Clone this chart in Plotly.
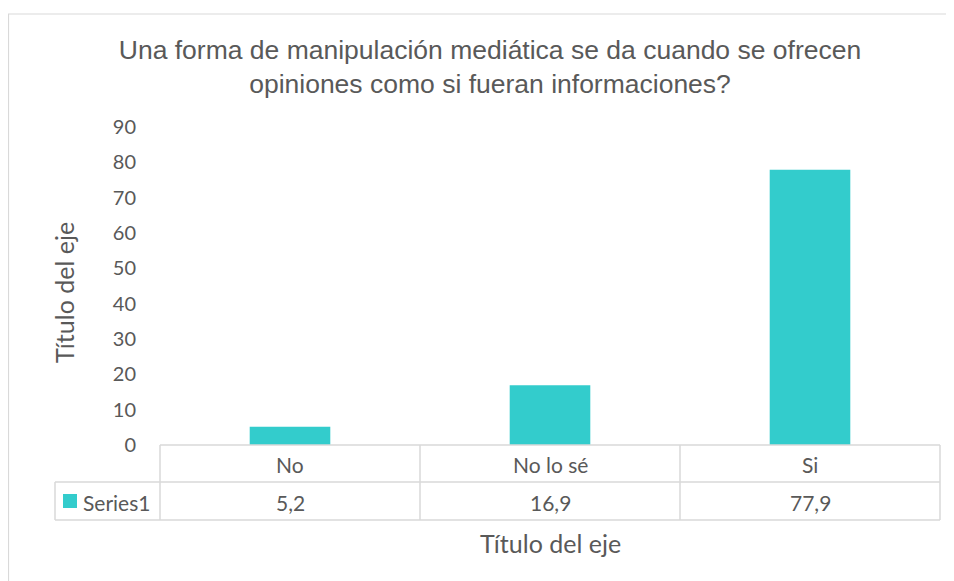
import plotly.graph_objects as go

categories = ["No", "No lo sé", "Si"]
values = [5.2, 16.9, 77.9]
value_labels = ["5,2", "16,9", "77,9"]
series_name = "Series1"
y_ticks = [0, 10, 20, 30, 40, 50, 60, 70, 80, 90]
title_text = "Una forma de manipulación mediática se da cuando se ofrecen<br>opiniones como si fueran informaciones?"
axis_title = "Título del eje"

OFF = 8  # page body margin
W, H = 954 - OFF, 581 - OFF
BAR = "#33CCCC"
GRID = "#D9D9D9"
TXT = "#595959"
TFONT = "Lato"

def px(x):
    return (x - OFF) / W

def py(y):
    return 1 - (y - OFF) / H

fig = go.Figure()
fig.add_trace(go.Bar(x=categories, y=values, marker_color=BAR, width=0.31,
                     name=series_name, showlegend=False))

fig.update_layout(
    template="none",
    width=W, height=H,
    margin=dict(l=0, r=0, t=0, b=0, pad=0, autoexpand=False),
    paper_bgcolor="white", plot_bgcolor="white",
    xaxis=dict(domain=[px(160), px(940)], showticklabels=False, showgrid=False,
               showline=False, zeroline=False, range=[-0.5, 2.5], automargin=False, ticks=""),
    yaxis=dict(domain=[py(445), py(127)], range=[0, 90], tickvals=y_ticks,
               showgrid=False, zeroline=False, showline=False, automargin=False,
               tickfont=dict(family=TFONT, size=20, color=TXT), ticks="",
               ticklabelstandoff=23),
    title=dict(text=title_text, x=px(490), xanchor="center", y=py(59), yanchor="middle",
               font=dict(family="Liberation Sans", size=26.5, color=TXT)),
)

shapes = []
# outer border
shapes.append(dict(type="rect", xref="paper", yref="paper", x0=px(8.5), x1=px(970),
                   y0=py(600), y1=py(14), line=dict(color=GRID, width=1.2)))
# table lines
def hline(x0, x1, y):
    shapes.append(dict(type="line", xref="paper", yref="paper", x0=px(x0), x1=px(x1),
                       y0=py(y), y1=py(y), line=dict(color=GRID, width=1.5)))
def vline(x, y0, y1):
    shapes.append(dict(type="line", xref="paper", yref="paper", x0=px(x), x1=px(x),
                       y0=py(y0), y1=py(y1), line=dict(color=GRID, width=1.5)))
hline(160, 940, 445)
hline(55, 940, 482)
hline(55, 940, 520)
vline(55, 482, 520)
for xv in [160, 420, 680, 940]:
    vline(xv, 445, 520)
# legend key
shapes.append(dict(type="rect", xref="paper", yref="paper", x0=px(63), x1=px(77),
                   y0=py(508), y1=py(494), fillcolor=BAR, line=dict(width=0)))
fig.update_layout(shapes=shapes)

ann = []
for c, v in zip(categories, value_labels):
    ann.append(dict(x=c, xref="x", y=py(464), yref="paper", text=c, showarrow=False,
                    yanchor="middle", font=dict(family=TFONT, size=21, color=TXT)))
    ann.append(dict(x=c, xref="x", y=py(502), yref="paper", text=v, showarrow=False,
                    yanchor="middle", font=dict(family=TFONT, size=21, color=TXT)))
ann.append(dict(x=px(81), xref="paper", y=py(502), yref="paper", text=series_name,
                xanchor="left", yanchor="middle", showarrow=False,
                font=dict(family=TFONT, size=21, color=TXT)))
ann.append(dict(x=px(550), xref="paper", y=py(543), yref="paper", text=axis_title,
                yanchor="middle", showarrow=False, font=dict(family=TFONT, size=25, color=TXT)))
ann.append(dict(x=px(64), xref="paper", y=py(293), yref="paper", text=axis_title,
                xanchor="center", yanchor="middle",
                textangle=-90, showarrow=False, font=dict(family=TFONT, size=25, color=TXT)))
fig.update_layout(annotations=ann)

fig.write_html("out.html")
